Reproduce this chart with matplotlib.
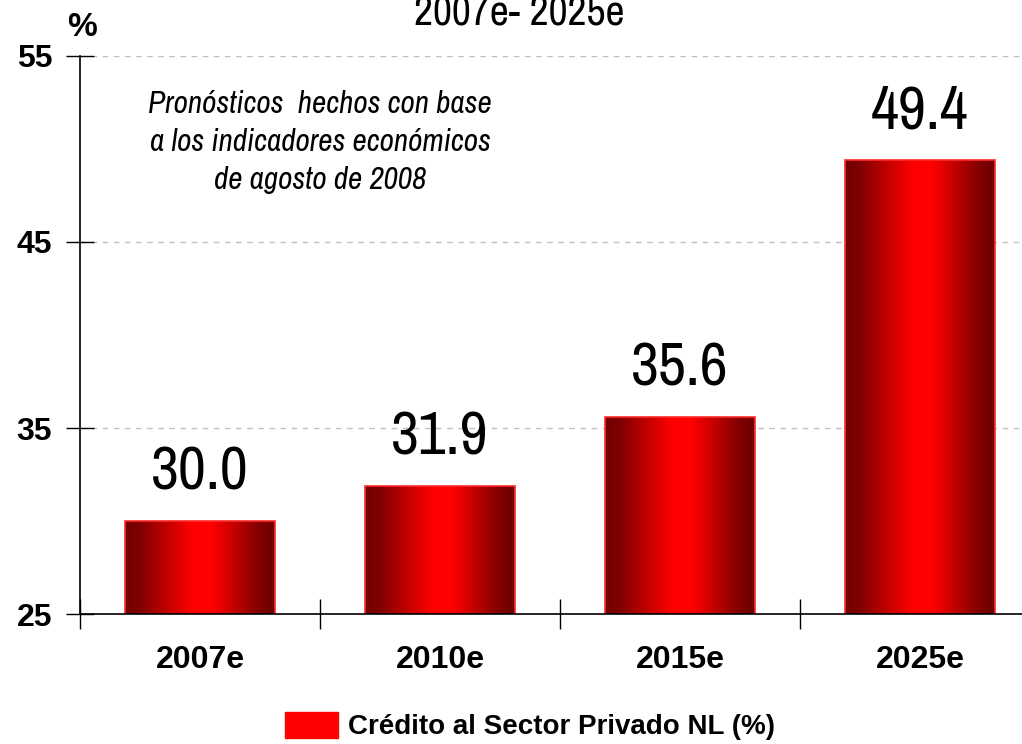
import matplotlib
matplotlib.use("Agg")
import matplotlib.pyplot as plt
import numpy as np
from matplotlib import font_manager
from matplotlib.colors import LinearSegmentedColormap
from matplotlib.patches import Patch

categories = ["2007e", "2010e", "2015e", "2025e"]
values = [30.0, 31.9, 35.6, 49.4]
y_ticks = [25, 35, 45, 55]
title = "2007e- 2025e"
note = "Pronósticos  hechos con base\na los indicadores económicos\nde agosto de 2008"
series_name = "Crédito al Sector Privado NL (%)"

# pick a narrow face for the title, notes and bar values
names = {f.name for f in font_manager.fontManager.ttflist}
narrow = next((n for n in ["Liberation Sans Narrow", "Arial Narrow", "Archivo Narrow",
                           "PT Sans Narrow", "Roboto Condensed", "Fira Sans Condensed"]
               if n in names), "Liberation Sans")
plt.rcParams['font.family'] = ['Liberation Sans', 'DejaVu Sans']

fig = plt.figure(figsize=(10.22, 7.44), dpi=100)
# axes run a bit past the right edge, as in the original
ax = fig.add_axes([80 / 1022, 130 / 744, 960 / 1022, 558 / 744])

x = np.arange(len(categories))
bars = ax.bar(x, values, width=0.625, color='none',
              edgecolor='#ff2a2a', linewidth=1.2, zorder=3)

# horizontal shading of each bar: dark edges, bright middle
shade = LinearSegmentedColormap.from_list(
    "shade", [(0.0, "#6e0000"), (0.1, "#800000"), (0.45, "#ff0000"),
              (0.58, "#ff0000"), (0.9, "#800000"), (1.0, "#6a0000")])
grad = np.linspace(0, 1, 256).reshape(1, -1)
for b in bars:
    x0, w, h = b.get_x(), b.get_width(), b.get_height()
    im = ax.imshow(grad, cmap=shade, aspect='auto', zorder=2,
                   extent=(x0, x0 + w, 25, h), interpolation='bilinear')
    im.set_clip_path(b)

for xi, v in zip(x, values):
    ax.text(xi, v + 1.7, f"{v:.1f}", ha='center', va='baseline',
            fontsize=44, family=narrow, color='black')

ax.set_xlim(-0.5, 3.5)
ax.set_ylim(25, 55)
ax.set_yticks(y_ticks)
ax.set_yticklabels([str(t) for t in y_ticks], fontsize=23, fontweight='bold')
ax.set_xticks(np.arange(-0.5, 4, 1))
ax.set_xticklabels([])
ax.set_xticks(x, minor=True)
ax.set_xticklabels(categories, minor=True, fontsize=23, fontweight='bold')
ax.tick_params(axis='x', which='major', direction='inout', length=22, width=1)
ax.tick_params(axis='x', which='minor', length=0, pad=22)
ax.tick_params(axis='y', direction='inout', length=20, width=1, pad=10)

for t in [35, 45, 55]:
    ax.axhline(t, color='#c0c0c0', linestyle=(0, (4, 4)), linewidth=1, zorder=1)

ax.spines['top'].set_visible(False)
ax.spines['right'].set_visible(False)
for s in ['left', 'bottom']:
    ax.spines[s].set_linewidth(1.2)
    ax.spines[s].set_zorder(4)

fig.text(82 / 1022, 1 - 28 / 744, "%", ha='center', va='center',
         fontsize=24, fontweight='bold')
fig.text(519 / 1022, 1 - 25 / 744, title, ha='center', va='baseline',
         fontsize=30, family=narrow)
ax.text(0.5, 50.38, note, ha='center', va='center', fontsize=22.5,
        style='italic', family=narrow, linespacing=1.42)

handle = Patch(facecolor='#ff0000', edgecolor='#ff0000')
fig.legend([handle], [series_name], loc='center', bbox_to_anchor=(530 / 1022, 1 - 726 / 744),
           frameon=False, prop={'size': 20, 'weight': 'bold'},
           handlelength=1.9, handleheight=1.1, handletextpad=0.35)

fig.savefig("out.png", dpi=100, facecolor='white')
